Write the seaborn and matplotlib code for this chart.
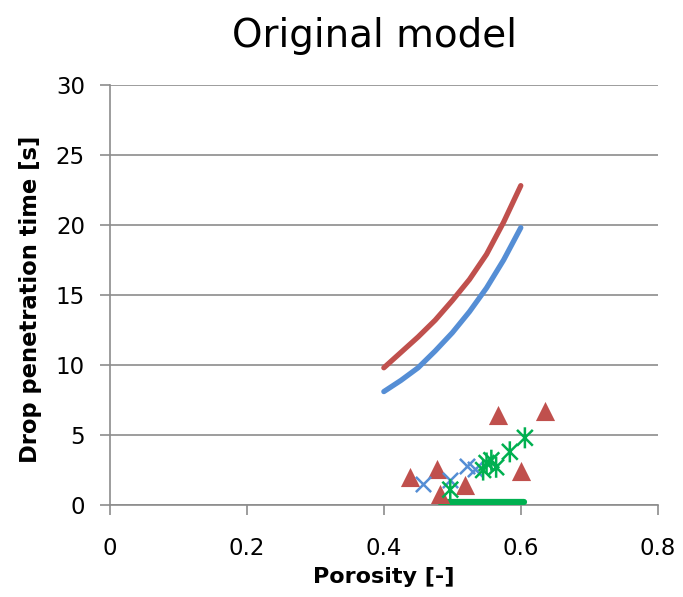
import numpy as np
import pandas as pd
import matplotlib
matplotlib.use("Agg")
import matplotlib.pyplot as plt
from matplotlib.path import Path
import seaborn as sns

# ---- data ----
curve_x = [0.400, 0.425, 0.450, 0.475, 0.500, 0.525, 0.550, 0.575, 0.600]
red_curve = [9.8, 10.9, 12.0, 13.2, 14.6, 16.1, 17.9, 20.2, 22.8]
blue_curve = [8.1, 8.9, 9.8, 11.0, 12.3, 13.8, 15.5, 17.5, 19.8]

tri_x = [0.438, 0.477, 0.482, 0.519, 0.567, 0.601, 0.636]
tri_y = [2.0, 2.6, 0.8, 1.4, 6.4, 2.4, 6.7]

cross_x = [0.457, 0.497, 0.522, 0.533]
cross_y = [1.5, 1.8, 2.8, 2.6]

star_x = [0.497, 0.545, 0.550, 0.557, 0.564, 0.584, 0.606]
star_y = [1.1, 2.5, 3.0, 3.2, 2.7, 3.8, 4.8]

green_line_x = [0.482, 0.520, 0.560, 0.605]
green_line_y = [0.25, 0.25, 0.25, 0.25]

x_ticks = [0, 0.2, 0.4, 0.6, 0.8]
x_tick_labels = ["0", "0.2", "0.4", "0.6", "0.8"]
y_ticks = [0, 5, 10, 15, 20, 25, 30]

RED = "#C0504D"
BLUE = "#558ED5"
GREEN = "#00B050"
GRID = "#8C8C8C"

sns.set_theme(style="white")
plt.rcParams["font.family"] = ["DejaVu Sans"]
plt.rcParams["text.color"] = "black"
plt.rcParams["axes.labelcolor"] = "black"

fig = plt.figure(figsize=(6.83, 5.97), dpi=100)
ax = fig.add_axes([0.161, 0.154, 0.802, 0.704])

curves = pd.DataFrame({"x": curve_x, "red": red_curve, "blue": blue_curve})
sns.lineplot(data=curves, x="x", y="red", ax=ax, color=RED, linewidth=3.8,
             solid_capstyle="round", solid_joinstyle="round", zorder=3)
sns.lineplot(data=curves, x="x", y="blue", ax=ax, color=BLUE, linewidth=3.8,
             solid_capstyle="round", solid_joinstyle="round", zorder=3)

gl = pd.DataFrame({"x": green_line_x, "y": green_line_y})
sns.lineplot(data=gl, x="x", y="y", ax=ax, color=GREEN, linewidth=4.5,
             solid_capstyle="round", zorder=3)

tri = pd.DataFrame({"x": tri_x, "y": tri_y})
sns.scatterplot(data=tri, x="x", y="y", ax=ax, marker="^", s=190, color=RED,
                edgecolor=RED, linewidth=0, zorder=4)

cr = pd.DataFrame({"x": cross_x, "y": cross_y})
sns.scatterplot(data=cr, x="x", y="y", ax=ax, marker="x", s=120, color=BLUE,
                linewidth=1.8, zorder=5)

ast = Path([(0, -1), (0, 1), (-0.75, -0.75), (0.75, 0.75), (-0.75, 0.75), (0.75, -0.75)],
           [Path.MOVETO, Path.LINETO, Path.MOVETO, Path.LINETO, Path.MOVETO, Path.LINETO])
st = pd.DataFrame({"x": star_x, "y": star_y})
sns.scatterplot(data=st, x="x", y="y", ax=ax, marker=ast, s=230, facecolor="none",
                edgecolor=GREEN, linewidth=1.8, zorder=6)

ax.set_xlim(0, 0.8)
ax.set_ylim(0, 30)
ax.set_xticks(x_ticks)
ax.set_xticklabels(x_tick_labels)
ax.set_yticks(y_ticks)
ax.yaxis.grid(True, color=GRID, linewidth=1.2)
ax.xaxis.grid(False)
ax.set_axisbelow(True)
for s in ["top", "right"]:
    ax.spines[s].set_visible(False)
for s in ["left", "bottom"]:
    ax.spines[s].set_color(GRID)
    ax.spines[s].set_linewidth(1.2)
ax.tick_params(axis="both", direction="out", length=7, width=1.2, color=GRID,
               labelsize=16.5, labelcolor="black", bottom=True, left=True)
ax.tick_params(axis="y", pad=11)
ax.tick_params(axis="x", pad=16)

ax.set_xlabel("Porosity [-]", fontsize=16, fontweight="bold")
ax.xaxis.set_label_coords(0.5, -0.148)
ax.set_ylabel("Drop penetration time [s]", fontsize=16.3, fontweight="bold")
ax.yaxis.set_label_coords(-0.124, 0.49)
fig.text(0.548, 1 - 47 / 597, "Original model", fontsize=28, ha="center", va="baseline")

fig.savefig("out.png", dpi=100)
